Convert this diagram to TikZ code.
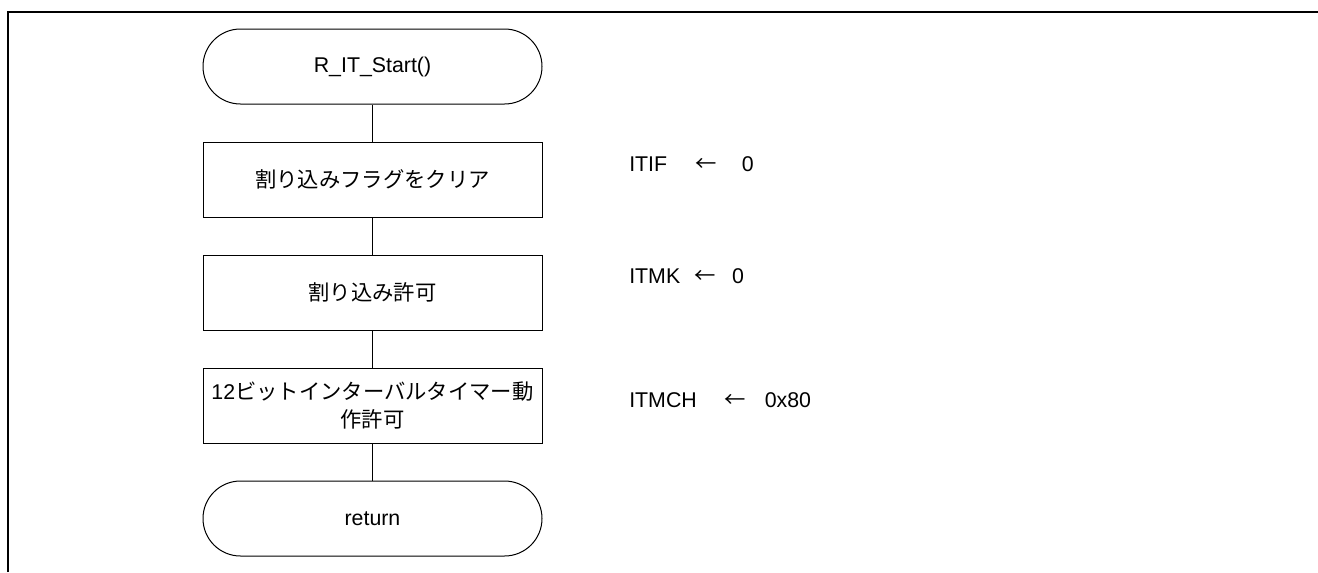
\documentclass[tikz,border=0pt]{standalone}
\usepackage{fontspec}
\setmainfont{Liberation Sans}
\newfontfamily\jpfont{Noto Sans CJK JP}
\usetikzlibrary{positioning}
\tikzset{
    term/.style = {rectangle, draw=black, line width=0.75pt, rounded corners=28.1pt, minimum width=254.25pt, minimum height=56.25pt, inner sep=0pt},
    proc/.style = {rectangle, draw=black, line width=0.75pt, minimum width=254.25pt, minimum height=56.25pt, inner sep=0pt, align=center},
    note/.style = {anchor=west, inner sep=0pt},
    link/.style = {line width=0.75pt},
    frame/.style = {line width=1.5pt},
    big/.style = {font=\fontsize{16pt}{21.5pt}\selectfont}
}
\newcommand{\J}[1]{{\jpfont #1}}
\newcommand{\la}{\J{←}}

\begin{document}
\begin{tikzpicture}[x=0.75pt,y=-0.75pt,big]
\useasboundingbox (0,0) rectangle (1318,572);
\coordinate (fl) at (8,572);
\coordinate (fc) at (8,12);
\coordinate (fr) at (1318,12);
\draw[frame] (fl) -- (fc) -- (fr);
%
\node[term] at (372.5, 66.5) (start) {R\_IT\_Start()};
\node[proc] at (372.5,179.5) (clr) {\J{割り込みフラグをクリア}};
\node[proc] at (372.5,292.5) (ena) {\J{割り込み許可}};
\node[proc] at (372.5,405.5) (run) {12\J{ビットインターバルタイマー動}\\\J{作許可}};
\node[term] at (372.5,518.5) (ret) {return};
%
\draw[link] (start) -- (clr);
\draw[link] (clr) -- (ena);
\draw[link] (ena) -- (run);
\draw[link] (run) -- (ret);
%
\node[note] at (629,164) (itif) {ITIF\hspace{21pt}\la\hspace{19pt}0};
\node[note] at (629,276.5) (itmk) {ITMK\hspace{11pt}\la\hspace{12pt}0};
\node[note] at (629,400) (itmch) {ITMCH\hspace{21pt}\la\hspace{14pt}0x80};
\end{tikzpicture}
\end{document}
